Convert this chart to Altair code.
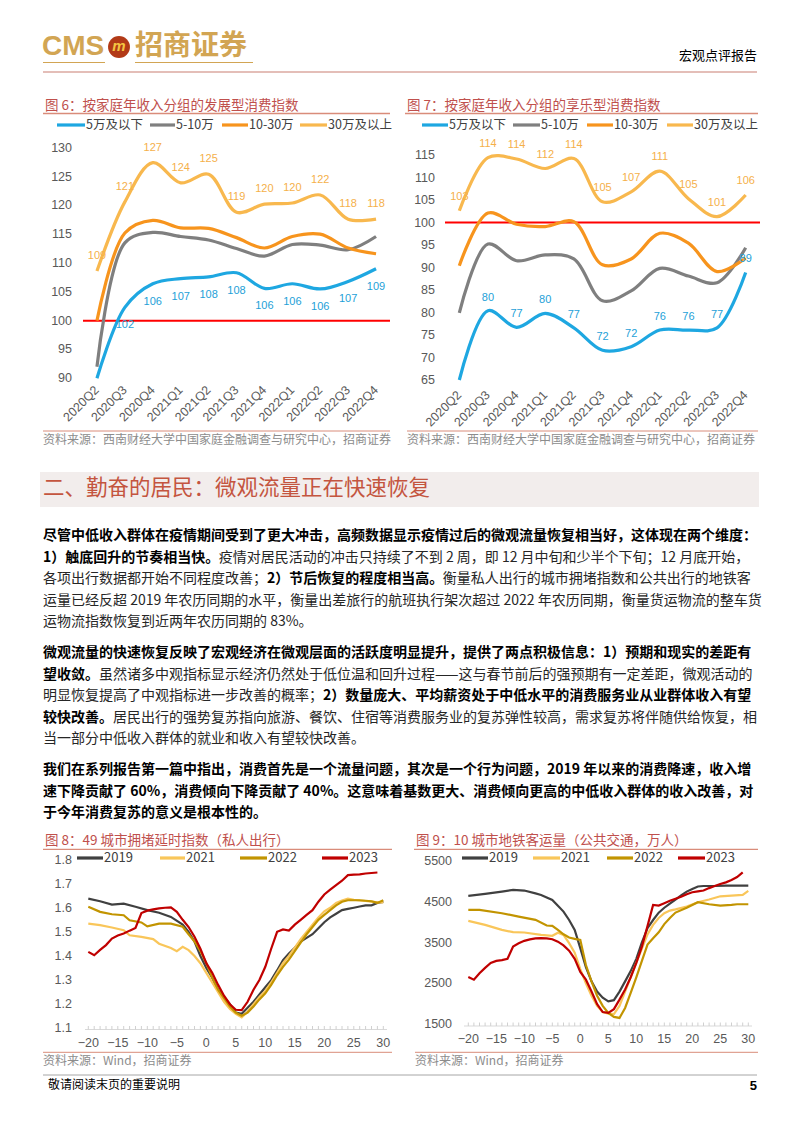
import altair as alt
import pandas as pd

W, H = 786, 1117
OFF = 8
CJK = "Noto Sans CJK SC"
LAT = "Liberation Sans"

# ---------------- data ----------------
QUARTERS = ['2020Q2', '2020Q3', '2020Q4', '2021Q1', '2021Q2', '2021Q3',
            '2021Q4', '2022Q1', '2022Q2', '2022Q3', '2022Q4']
INCOME_GROUPS = ['5万及以下', '5-10万', '10-30万', '30万及以上']

# Fig 6 发展型消费指数
f6_low = [80.0, 102.3, 106.4, 107.3, 107.6, 108.3, 105.6, 106.4, 105.5, 106.8, 109.0]
f6_mid = [92.0, 113.5, 115.3, 114.6, 114.0, 112.5, 111.2, 113.2, 113.1, 112.3, 114.6]
f6_up = [100.0, 115.2, 117.4, 116.1, 116.0, 114.4, 112.6, 114.6, 115.0, 112.6, 111.6]
f6_high = [108.6, 120.6, 127.4, 123.9, 125.4, 118.8, 120.2, 120.4, 121.8, 117.6, 117.6]
f6_ticks = [90, 95, 100, 105, 110, 115, 120, 125, 130]

# Fig 7 享乐型消费指数
f7_low = [65.0, 80.4, 76.7, 79.8, 76.6, 71.6, 72.4, 76.1, 76.1, 76.6, 88.9]
f7_mid = [79.9, 95.2, 91.5, 92.8, 91.9, 82.6, 84.8, 89.8, 88.1, 86.6, 94.4]
f7_up = [90.4, 102.1, 99.6, 99.1, 100.2, 90.6, 91.9, 97.6, 95.4, 89.1, 92.1]
f7_high = [102.6, 114.4, 114.1, 112.0, 114.2, 104.6, 106.8, 111.4, 105.3, 101.3, 106.1]
f7_ticks = [65, 70, 75, 80, 85, 90, 95, 100, 105, 110, 115]

YEARS = ['2019', '2021', '2022', '2023']
DAY_TICKS = [-20, -15, -10, -5, 0, 5, 10, 15, 20, 25, 30]

# Fig 8 49城市拥堵延时指数
f8_2019_d = [-20, -18, -16, -14, -12, -10, -8, -6, -4, -3, -2, -1, 0, 1, 2, 3, 4, 5, 6, 7, 8, 9,
             10, 11, 12, 13, 14, 15, 16, 17, 18, 19, 20, 21, 22, 23, 24, 25, 26, 27, 28, 29, 30]
f8_2019_v = [1.638, 1.627, 1.613, 1.617, 1.604, 1.590, 1.579, 1.562, 1.530, 1.500, 1.460, 1.400,
             1.350, 1.310, 1.260, 1.230, 1.200, 1.165, 1.160, 1.185, 1.210, 1.240, 1.270, 1.300,
             1.340, 1.383, 1.410, 1.434, 1.460, 1.475, 1.490, 1.515, 1.540, 1.560, 1.575, 1.590,
             1.595, 1.600, 1.605, 1.610, 1.610, 1.620, 1.624]
f8_2021_d = [-20, -18, -16, -14, -13, -11, -9, -8, -6, -5, -4, -3, -2, -1, 0, 1, 2, 3, 4, 5, 6,
             7, 8, 9, 10, 11, 12, 13, 14, 15, 16, 17, 18, 19, 20, 21, 22, 23, 24, 25, 26, 27, 28,
             29, 30]
f8_2021_v = [1.534, 1.528, 1.518, 1.507, 1.486, 1.479, 1.470, 1.451, 1.433, 1.420, 1.438, 1.424,
             1.400, 1.370, 1.330, 1.290, 1.250, 1.210, 1.180, 1.160, 1.145, 1.170, 1.200, 1.230,
             1.255, 1.290, 1.330, 1.370, 1.400, 1.435, 1.470, 1.500, 1.530, 1.560, 1.585, 1.600,
             1.620, 1.630, 1.638, 1.633, 1.630, 1.628, 1.625, 1.622, 1.622]
f8_2022_d = [-20, -18, -16, -14, -13, -11, -10, -8, -6, -4, -3, -2, -1, 0, 1, 2, 3, 4, 5, 6, 7,
             8, 9, 10, 11, 12, 13, 14, 15, 16, 17, 18, 19, 20, 21, 22, 23, 24, 26, 28, 29, 30]
f8_2022_v = [1.604, 1.583, 1.573, 1.569, 1.548, 1.539, 1.523, 1.534, 1.534, 1.521, 1.490, 1.460,
             1.420, 1.370, 1.310, 1.260, 1.225, 1.190, 1.165, 1.152, 1.165, 1.190, 1.220, 1.245,
             1.280, 1.320, 1.355, 1.385, 1.420, 1.455, 1.490, 1.520, 1.550, 1.570, 1.590, 1.610,
             1.625, 1.631, 1.631, 1.627, 1.620, 1.631]
f8_2023_d = [-20, -19, -18, -17, -16, -15, -14, -13, -12, -11, -10, -9, -8, -7, -6, -5, -4, -3,
             -2, -1, 0, 1, 2, 3, 4, 5, 6, 7, 8, 9, 10, 11, 12, 13, 14, 15, 16, 17, 18, 19, 20,
             21, 22, 23, 24, 25, 26, 27, 28, 29]
f8_2023_v = [1.417, 1.403, 1.425, 1.445, 1.472, 1.485, 1.493, 1.505, 1.516, 1.578, 1.588, 1.593,
             1.597, 1.600, 1.601, 1.583, 1.550, 1.520, 1.480, 1.430, 1.370, 1.330, 1.280, 1.235,
             1.200, 1.177, 1.175, 1.210, 1.260, 1.300, 1.355, 1.430, 1.500, 1.510, 1.505, 1.530,
             1.550, 1.570, 1.590, 1.625, 1.655, 1.675, 1.694, 1.712, 1.735, 1.737, 1.738, 1.742,
             1.744, 1.746]
f8_ticks = [1.1, 1.2, 1.3, 1.4, 1.5, 1.6, 1.7, 1.8]

# Fig 9 10城市地铁客运量
f9_2019_d = [-20, -17, -14, -12, -10, -8, -7, -5, -4, -3, -2, -1, 0, 1, 2, 3, 4, 5, 6, 7, 8, 9,
             10, 11, 12, 13, 14, 15, 16, 17, 18, 19, 20, 21, 22, 24, 26, 28, 30]
f9_2019_v = [4638, 4687, 4744, 4785, 4770, 4700, 4663, 4541, 4400, 4256, 4050, 3809, 3362, 2900,
             2550, 2300, 2150, 2061, 2090, 2300, 2550, 2800, 3100, 3500, 3850, 4050, 4230, 4350,
             4450, 4550, 4650, 4744, 4810, 4870, 4882, 4882, 4890, 4890, 4890]
f9_2021_d = [-20, -17, -14, -12, -10, -7, -5, -4, -3, -2, -1, 0, 1, 2, 3, 4, 5, 6, 7, 8, 9, 10,
             11, 12, 13, 14, 15, 16, 17, 19, 21, 23, 25, 27, 29, 30]
f9_2021_v = [4028, 3931, 3809, 3752, 3744, 3687, 3663, 3740, 3687, 3484, 3250, 2850, 2500, 2200,
             1950, 1800, 1760, 1750, 1950, 2300, 2650, 3000, 3350, 3700, 3931, 4100, 4215, 4280,
             4310, 4378, 4484, 4550, 4630, 4646, 4663, 4760]
f9_2022_d = [-20, -18, -14, -11, -8, -6, -5, -4, -3, -2, -1, 0, 1, 2, 3, 4, 5, 6, 7, 8, 9, 10,
             11, 12, 13, 14, 15, 16, 17, 19, 21, 23, 25, 27, 28, 30]
f9_2022_v = [4297, 4297, 4215, 4134, 4053, 3915, 3907, 3809, 3700, 3622, 3589, 3565, 2950, 2550,
             2200, 1950, 1780, 1680, 1656, 1900, 2266, 2650, 3050, 3450, 3606, 3750, 3950, 4100,
             4232, 4350, 4484, 4435, 4403, 4420, 4435, 4435]
f9_2023_d = [-20, -19, -18, -17, -16, -15, -14, -13, -12, -11, -10, -9, -8, -7, -6, -5, -4, -3,
             -2, -1, 0, 1, 2, 3, 4, 5, 6, 7, 8, 9, 10, 11, 12, 13, 14, 15, 16, 17, 18, 19, 20,
             21, 22, 23, 24, 25, 26, 27, 28, 29]
f9_2023_v = [2656, 2591, 2750, 2880, 3000, 3050, 3070, 3102, 3402, 3480, 3540, 3575, 3600, 3606,
             3600, 3580, 3520, 3430, 3300, 3100, 2780, 2591, 2300, 1990, 1800, 1779, 1870, 2103,
             2350, 2650, 3000, 3400, 3900, 4419, 4403, 4460, 4520, 4570, 4620, 4680, 4728, 4750,
             4770, 4830, 4880, 4930, 4970, 5028, 5100, 5215]
f9_ticks = [1500, 2500, 3500, 4500, 5500]

# ---------------- text ----------------
HEADER_RIGHT = "宏观点评报告"
SECTION = "二、勤奋的居民：微观流量正在快速恢复"
TITLE6 = "图 6：按家庭年收入分组的发展型消费指数"
TITLE7 = "图 7：按家庭年收入分组的享乐型消费指数"
TITLE8 = "图 8：49 城市拥堵延时指数（私人出行）"
TITLE9 = "图 9：10 城市地铁客运量（公共交通，万人）"
SRC67 = "资料来源：西南财经大学中国家庭金融调查与研究中心，招商证券"
SRC89 = "资料来源：Wind，招商证券"
FOOTER = "敬请阅读末页的重要说明"
PAGE = "5"

PARA1 = [
    [("尽管中低收入群体在疫情期间受到了更大冲击，高频数据显示疫情过后的微观流量恢复相当好，这体现在两个维度：", True)],
    [("1）触底回升的节奏相当快。", True),
     ("疫情对居民活动的冲击只持续了不到 2 周，即 12 月中旬和少半个下旬；12 月底开始，", False)],
    [("各项出行数据都开始不同程度改善；", False), ("2）节后恢复的程度相当高。", True),
     ("衡量私人出行的城市拥堵指数和公共出行的地铁客", False)],
    [("运量已经反超 2019 年农历同期的水平，衡量出差旅行的航班执行架次超过 2022 年农历同期，衡量货运物流的整车货", False)],
    [("运物流指数恢复到近两年农历同期的 83%。", False)],
]
PARA2 = [
    [("微观流量的快速恢复反映了宏观经济在微观层面的活跃度明显提升，提供了两点积极信息：1）预期和现实的差距有", True)],
    [("望收敛。", True),
     ("虽然诸多中观指标显示经济仍然处于低位温和回升过程——这与春节前后的强预期有一定差距，微观活动的", False)],
    [("明显恢复提高了中观指标进一步改善的概率；", False),
     ("2）数量庞大、平均薪资处于中低水平的消费服务业从业群体收入有望", True)],
    [("较快改善。", True),
     ("居民出行的强势复苏指向旅游、餐饮、住宿等消费服务业的复苏弹性较高，需求复苏将伴随供给恢复，相", False)],
    [("当一部分中低收入群体的就业和收入有望较快改善。", False)],
]
PARA3 = [
    [("我们在系列报告第一篇中指出，消费首先是一个流量问题，其次是一个行为问题，2019 年以来的消费降速，收入增", True)],
    [("速下降贡献了 60%，消费倾向下降贡献了 40%。这意味着基数更大、消费倾向更高的中低收入群体的收入改善，对", True)],
    [("于今年消费复苏的意义是根本性的。", True)],
]

# ---------------- styles ----------------
C_BLUE, C_GRAY, C_ORANGE, C_LIGHT = '#1EA7E1', '#7F7F7F', '#F7941D', '#F8B84E'
C_2019, C_2021, C_2022, C_2023 = '#404040', '#F9C65A', '#C29400', '#C00000'
C_TITLE = '#C0504D'
C_TLINE = '#D98C7A'
C_AXIS = '#595959'
GOLD = '#D2A553'

ONE = pd.DataFrame({'k': [0]})
layers = []


def X(px):
    return px - OFF


def Y(py):
    return py - OFF


def text(s, x, y, size=14, color='#000000', weight='normal', align='left',
         font=CJK, baseline='middle', angle=0, style='normal'):
    df = pd.DataFrame({'t': [s]})
    layers.append(alt.Chart(df).mark_text(
        font=font, fontSize=size, color=color, fontWeight=weight, align=align,
        baseline=baseline, angle=angle, fontStyle=style
    ).encode(x=alt.value(X(x)), y=alt.value(Y(y)), text='t:N'))


def hline(x0, x1, y, color, width=1.0):
    layers.append(alt.Chart(ONE).mark_rule(color=color, strokeWidth=width).encode(
        x=alt.value(X(x0)), x2=alt.value(X(x1)), y=alt.value(Y(y))))


def box(x0, x1, y0, y1, color):
    layers.append(alt.Chart(ONE).mark_rect(color=color).encode(
        x=alt.value(X(x0)), x2=alt.value(X(x1)), y=alt.value(Y(y0)), y2=alt.value(Y(y1))))


def tw(s, fs):
    w = 0.0
    for ch in s:
        if ord(ch) >= 0x2E80 or ch in '“”—':
            w += fs
        elif ch == ' ':
            w += 0.224 * fs
        elif ch == '%':
            w += 0.86 * fs
        else:
            w += 0.553 * fs
    return w


def legend(items, y, size=12.5):
    for x0, x1, color, label in items:
        hline(x0, x1, y, color, 3.2)
        text(label, x1 + 1, y, size=size, color='#404040', font=CJK)


# ---------------- header ----------------
text("CMS", 42, 47, size=28, color=GOLD, font=LAT, weight='bold')
layers.append(alt.Chart(ONE).mark_point(shape='circle', filled=True, size=480, color='#B23A17', opacity=1).encode(
    x=alt.value(X(119)), y=alt.value(Y(47))))
text("m", 119, 46, size=15, color='#F4C542', font=LAT, weight='bold', align='center', style='italic')
text("招商证券", 135, 47, size=28, color=GOLD, font=CJK, weight='bold')
hline(43, 105, 62.5, GOLD, 1.2)
hline(135, 253, 62.5, GOLD, 1.2)
text(HEADER_RIGHT, 757, 56, size=13, align='right', font=CJK)
hline(43, 757, 72, '#C97F73', 1.2)

# ---------------- quarterly charts ----------------


def quarter_chart(xr, ydom, yr, series, label_specs, ticks, ytick_x, title, title_x,
                  leg_items, xlab_y, src_x, line_x1):
    xs = alt.Scale(domain=QUARTERS, range=[X(xr[0]), X(xr[1])], padding=0.5)
    ys = alt.Scale(domain=ydom, range=[Y(yr[0]), Y(yr[1])], zero=False, nice=False, clamp=True)
    text(title, title_x, 106, size=13.5, color=C_TITLE, font=CJK)
    hline(title_x - 2, line_x1, 113.5, C_TLINE, 1.3)
    legend(leg_items, 125)
    layers.append(alt.Chart(pd.DataFrame({'v': [100]})).mark_rule(color='#FF0000', strokeWidth=2).encode(
        x=alt.value(X(xr[0])), x2=alt.value(X(xr[1])), y=alt.Y('v:Q', scale=ys, axis=None)))
    for vals, color in series:
        df = pd.DataFrame({'q': QUARTERS, 'v': vals})
        layers.append(alt.Chart(df).mark_line(color=color, strokeWidth=3.2, interpolate='catmull-rom').encode(
            x=alt.X('q:N', scale=xs, sort=QUARTERS, axis=None),
            y=alt.Y('v:Q', scale=ys, axis=None)))
    for vals, start, color, dy in label_specs:
        df = pd.DataFrame({'q': QUARTERS[start:], 'v': vals[start:]})
        layers.append(alt.Chart(df).mark_text(color=color, fontSize=11, font=LAT, dy=dy).encode(
            x=alt.X('q:N', scale=xs, sort=QUARTERS, axis=None),
            y=alt.Y('v:Q', scale=ys, axis=None),
            text=alt.Text('v:Q', format='.0f')))
    layers.append(alt.Chart(pd.DataFrame({'v': ticks})).mark_text(
        align='right', baseline='middle', font=LAT, fontSize=12.5, color=C_AXIS).encode(
        x=alt.value(X(ytick_x)), y=alt.Y('v:Q', scale=ys, axis=None), text=alt.Text('v:Q', format='d')))
    layers.append(alt.Chart(pd.DataFrame({'q': QUARTERS})).mark_text(
        align='right', baseline='middle', font=LAT, fontSize=12.5, color=C_AXIS, angle=315).encode(
        x=alt.X('q:N', scale=xs, sort=QUARTERS, axis=None), y=alt.value(Y(xlab_y)), text='q:N'))
    hline(src_x, line_x1, 431, C_TLINE, 1)
    text(SRC67, src_x, 440, size=12, color='#8C8C8C', font=CJK)


quarter_chart(
    xr=(83, 390), ydom=[90, 130], yr=(378.3, 147.7),
    series=[(f6_low, C_BLUE), (f6_mid, C_GRAY), (f6_up, C_ORANGE), (f6_high, C_LIGHT)],
    label_specs=[(f6_low, 1, '#1E9FD8', 18), (f6_high, 0, '#F5B04A', -15)],
    ticks=f6_ticks, ytick_x=72, title=TITLE6, title_x=45,
    leg_items=[(57, 85, C_BLUE, INCOME_GROUPS[0]), (150, 175, C_GRAY, INCOME_GROUPS[1]),
               (222, 248, C_ORANGE, INCOME_GROUPS[2]), (300, 327, C_LIGHT, INCOME_GROUPS[3])],
    xlab_y=388, src_x=43, line_x1=390)

quarter_chart(
    xr=(445, 760), ydom=[65, 115], yr=(380, 155),
    series=[(f7_low, C_BLUE), (f7_mid, C_GRAY), (f7_up, C_ORANGE), (f7_high, C_LIGHT)],
    label_specs=[(f7_low, 1, '#1E9FD8', -13), (f7_high, 0, '#F5B04A', -14)],
    ticks=f7_ticks, ytick_x=435, title=TITLE7, title_x=407,
    leg_items=[(422, 448, C_BLUE, INCOME_GROUPS[0]), (513, 540, C_GRAY, INCOME_GROUPS[1]),
               (587, 613, C_ORANGE, INCOME_GROUPS[2]), (667, 693, C_LIGHT, INCOME_GROUPS[3])],
    xlab_y=393, src_x=407, line_x1=758)

# ---------------- section + paragraphs ----------------
box(40, 759, 472, 507, '#F2EDEC')
text(SECTION, 43, 489, size=21.5, color='#C4553F', font=CJK)


def para(lines, y0, step=21.5):
    for i, segs in enumerate(lines):
        x = 43.0
        for s, b in segs:
            text(s, x, y0 + i * step, size=14, color='#000000' if b else '#262626',
                 weight='bold' if b else 'normal', font=CJK)
            x += tw(s, 14)


para(PARA1, 536)
para(PARA2, 653)
para(PARA3, 770)

# ---------------- daily charts ----------------


def daily_chart(xr, ydom, yr, series, ticks, tick_fmt, ytick_x, title, title_x, leg_items,
                axis_y, axis_x0, axis_x1, src_x, line_x1):
    xs = alt.Scale(domain=[-20, 30], range=[X(xr[0]), X(xr[1])], zero=False, nice=False)
    ys = alt.Scale(domain=ydom, range=[Y(yr[0]), Y(yr[1])], zero=False, nice=False)
    text(title, title_x, 841, size=13.5, color=C_TITLE, font=CJK)
    hline(title_x - 2, line_x1, 849.3, C_TLINE, 1.3)
    legend(leg_items, 858, size=13)
    hline(axis_x0, axis_x1, axis_y, '#D9D9D9', 1.2)
    layers.append(alt.Chart(pd.DataFrame({'d': list(range(-20, 31))})).mark_rule(
        color='#D0D0D0', strokeWidth=1).encode(
        x=alt.X('d:Q', scale=xs, axis=None), y=alt.value(Y(axis_y)), y2=alt.value(Y(axis_y - 3.5))))
    for days, vals, color in series:
        df = pd.DataFrame({'d': days, 'v': vals})
        layers.append(alt.Chart(df).mark_line(color=color, strokeWidth=2.2).encode(
            x=alt.X('d:Q', scale=xs, axis=None), y=alt.Y('v:Q', scale=ys, axis=None)))
    layers.append(alt.Chart(pd.DataFrame({'v': ticks})).mark_text(
        align='right', baseline='middle', font=LAT, fontSize=12.5, color=C_AXIS).encode(
        x=alt.value(X(ytick_x)), y=alt.Y('v:Q', scale=ys, axis=None), text=alt.Text('v:Q', format=tick_fmt)))
    layers.append(alt.Chart(pd.DataFrame({'d': DAY_TICKS})).mark_text(
        align='center', baseline='middle', font=LAT, fontSize=12.5, color=C_AXIS).encode(
        x=alt.X('d:Q', scale=xs, axis=None), y=alt.value(Y(axis_y + 13)), text=alt.Text('d:Q', format='d')))
    hline(src_x, line_x1, 1052.3, C_TLINE, 1)
    text(SRC89, src_x, 1061, size=12, color='#8C8C8C', font=CJK)


daily_chart(
    xr=(88.3, 383.3), ydom=[1.1, 1.8], yr=(1028.3, 859.5),
    series=[(f8_2019_d, f8_2019_v, C_2019), (f8_2021_d, f8_2021_v, C_2021),
            (f8_2022_d, f8_2022_v, C_2022), (f8_2023_d, f8_2023_v, C_2023)],
    ticks=f8_ticks, tick_fmt='.1f', ytick_x=72, title=TITLE8, title_x=45,
    leg_items=[(77, 103, C_2019, YEARS[0]), (160, 185, C_2021, YEARS[1]),
               (240, 267, C_2022, YEARS[2]), (322, 348, C_2023, YEARS[3])],
    axis_y=1029.5, axis_x0=85, axis_x1=387, src_x=43, line_x1=392)

daily_chart(
    xr=(468.3, 748.3), ydom=[1500, 5500], yr=(1024.3, 860.7),
    series=[(f9_2019_d, f9_2019_v, C_2019), (f9_2021_d, f9_2021_v, C_2021),
            (f9_2022_d, f9_2022_v, C_2022), (f9_2023_d, f9_2023_v, C_2023)],
    ticks=f9_ticks, tick_fmt='d', ytick_x=452, title=TITLE9, title_x=416,
    leg_items=[(462, 488, C_2019, YEARS[0]), (533, 560, C_2021, YEARS[1]),
               (607, 633, C_2022, YEARS[2]), (678, 705, C_2023, YEARS[3])],
    axis_y=1026, axis_x0=464, axis_x1=752, src_x=415, line_x1=758)

# ---------------- footer ----------------
hline(43, 757, 1075, '#A6A6A6', 1)
text(FOOTER, 48, 1085, size=12, color='#000000', font=CJK)
text(PAGE, 757, 1086, size=13, color='#000000', font=LAT, weight='bold', align='right')

chart = alt.layer(*layers).resolve_scale(
    x='independent', y='independent'
).properties(
    width=W, height=H, padding=0, background='white',
    autosize=alt.AutoSizeParams(type='none')
).configure_view(stroke=None)

chart.save("out.html", embed_options={"renderer": "svg", "actions": False})
